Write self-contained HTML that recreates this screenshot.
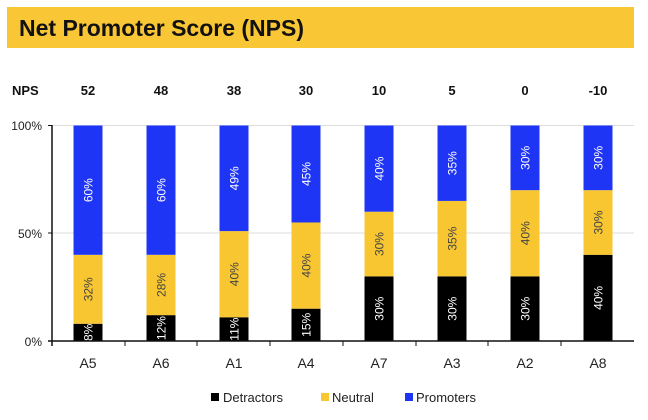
<!DOCTYPE html>
<html><head><meta charset="utf-8"><style>
body{margin:0;background:#fff;}
svg{display:block;font-family:"Liberation Sans",Arial,sans-serif;}
</style></head><body>
<svg width="648" height="420" viewBox="0 0 648 420">
<rect x="7" y="7" width="627" height="41" fill="#f9c735"/>
<text x="19" y="36" font-size="23" font-weight="bold" fill="#111">Net Promoter Score (NPS)</text>
<text x="12" y="95" font-size="13" font-weight="bold" fill="#111">NPS</text>
<g font-size="13" font-weight="bold" fill="#111" text-anchor="middle">
<text x="88" y="95">52</text><text x="161" y="95">48</text><text x="234" y="95">38</text><text x="306" y="95">30</text>
<text x="379" y="95">10</text><text x="452" y="95">5</text><text x="525" y="95">0</text><text x="598" y="95">-10</text>
</g>
<g stroke="#ddd" stroke-width="1">
<line x1="52" y1="125.5" x2="634" y2="125.5"/><line x1="52" y1="233" x2="634" y2="233"/>
</g>
<g font-size="12" fill="#222" text-anchor="end">
<text x="42" y="130">100%</text><text x="42" y="238">50%</text><text x="42" y="346">0%</text>
</g>
<g id="bars"></g>
<line x1="52" y1="125" x2="52" y2="346" stroke="#111" stroke-width="1.5"/>
<line x1="48" y1="125.5" x2="52" y2="125.5" stroke="#111"/>
<line x1="48" y1="233" x2="52" y2="233" stroke="#111"/>
<line x1="48" y1="341" x2="634" y2="341" stroke="#111" stroke-width="1.5"/>
<g stroke="#111">
<line x1="125" y1="341" x2="125" y2="346"/><line x1="197" y1="341" x2="197" y2="346"/><line x1="270" y1="341" x2="270" y2="346"/>
<line x1="343" y1="341" x2="343" y2="346"/><line x1="416" y1="341" x2="416" y2="346"/><line x1="488" y1="341" x2="488" y2="346"/>
<line x1="561" y1="341" x2="561" y2="346"/>
</g>
<g font-size="14" fill="#222" text-anchor="middle">
<text x="88" y="368">A5</text><text x="161" y="368">A6</text><text x="234" y="368">A1</text><text x="306" y="368">A4</text>
<text x="379" y="368">A7</text><text x="452" y="368">A3</text><text x="525" y="368">A2</text><text x="598" y="368">A8</text>
</g>
<rect x="211" y="393" width="8" height="8" fill="#000"/>
<text x="223" y="402" font-size="13" fill="#222">Detractors</text>
<rect x="321" y="393" width="8" height="8" fill="#f8c630"/>
<text x="332" y="402" font-size="13" fill="#222">Neutral</text>
<rect x="405" y="393" width="8" height="8" fill="#1f35f5"/>
<text x="416" y="402" font-size="13" fill="#222">Promoters</text>
</svg>
<script>
var d=[[8,32,60],[12,28,60],[11,40,49],[15,40,45],[30,30,40],[30,35,35],[30,40,30],[40,30,30]];
var cx=[88,161,234,306,379,452,525,598];
var cols=["#000","#f8c630","#1f35f5"],tc=["#fff","#444","#fff"];
var g=document.getElementById("bars"),s="";
for(var i=0;i<8;i++){var y=341;for(var k=0;k<3;k++){var h=d[i][k]*2.155;y-=h;
s+='<rect x="'+(cx[i]-14.5)+'" y="'+y+'" width="29" height="'+h+'" fill="'+cols[k]+'"/>';
var my=y+h/2;s+='<text transform="translate('+(cx[i]+4.5)+','+my+') rotate(-90)" text-anchor="middle" font-size="12" fill="'+tc[k]+'">'+d[i][k]+'%</text>';}}
g.innerHTML=s;
</script>
</body></html>
